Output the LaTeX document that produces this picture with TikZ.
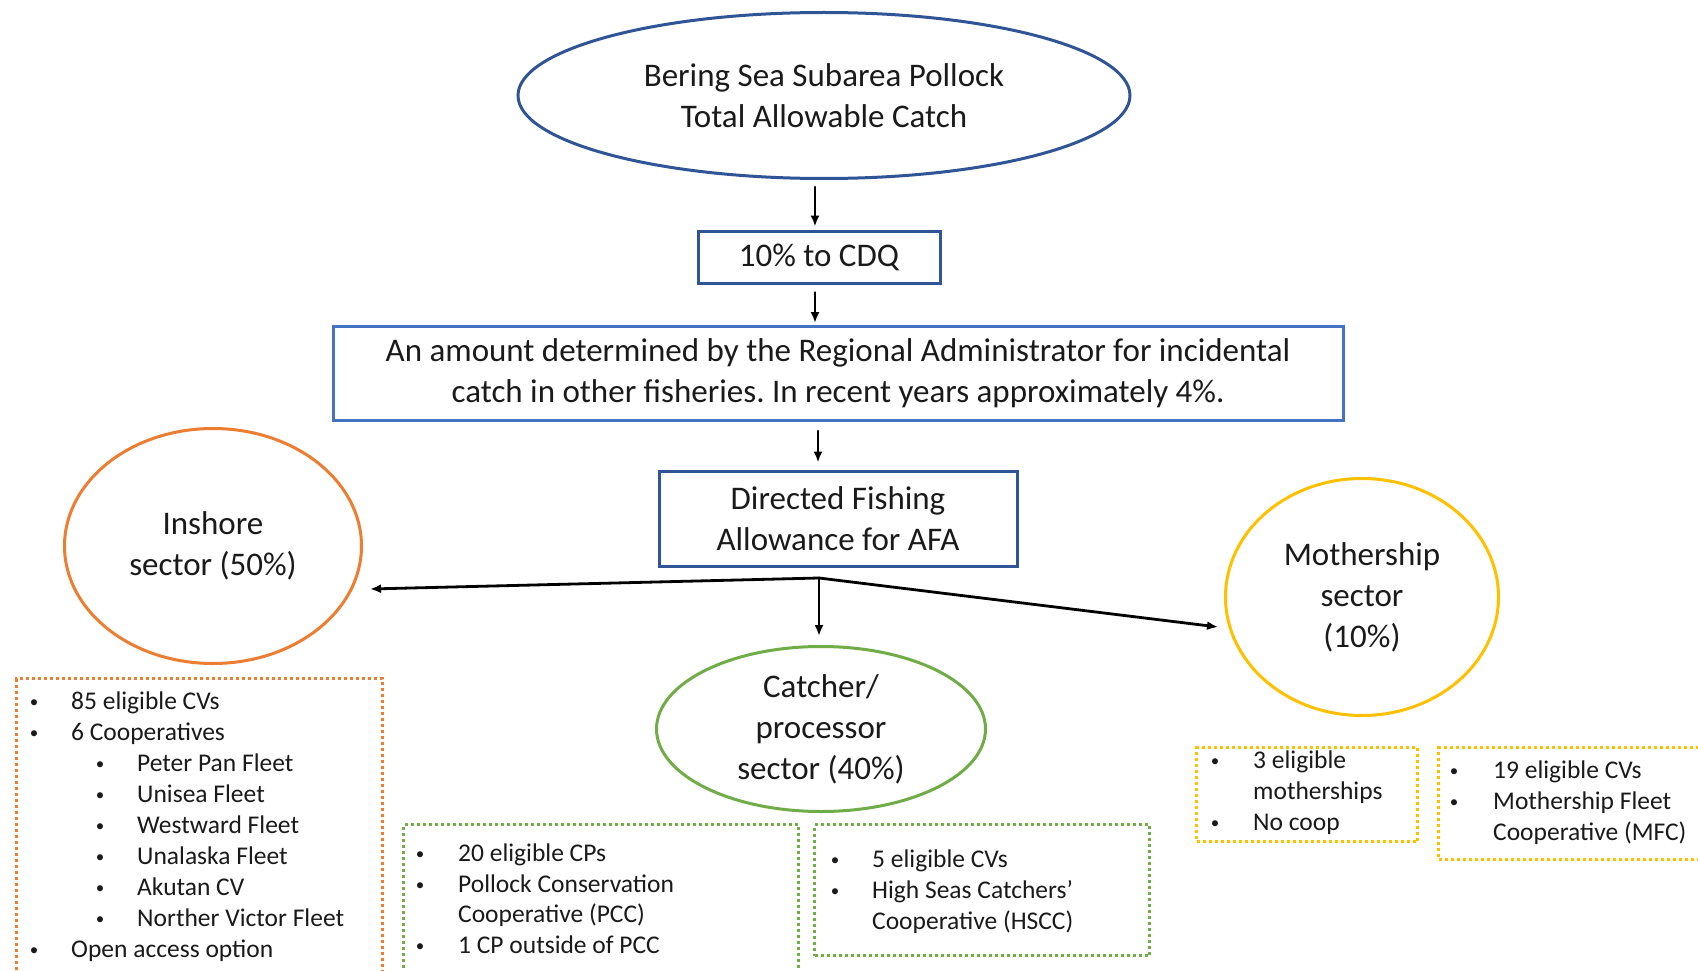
\documentclass[tikz,border=0pt]{standalone}
\usepackage{fontspec}
\setmainfont{Carlito}
\usetikzlibrary{shapes.geometric,arrows.meta}
\definecolor{dblue}{HTML}{2F5597}
\definecolor{lblue}{HTML}{4472C4}
\definecolor{orng}{HTML}{ED7D31}
\definecolor{grn}{HTML}{70AD47}
\definecolor{ylw}{HTML}{FFC000}
\definecolor{txt}{HTML}{1A1A1A}
\frenchspacing
\begin{document}
\begin{tikzpicture}[x=1pt,y=-1pt,
  big/.style={font=\fontsize{33}{41}\selectfont, text=txt, align=center, inner sep=0pt},
  oval/.style={big, ellipse, draw, line width=3pt},
  blbox/.style={big, rectangle, draw, line width=3pt},
  dotbox/.style={rectangle, draw, line width=3pt, dash pattern=on 3pt off 3pt, inner sep=0pt, anchor=north west},
  arr/.style={line width=2.8pt, line cap=round, -{Latex[length=11pt,width=9pt]}},
  bul/.style={font=\fontsize{17}{31}\selectfont, text=txt, anchor=base, inner sep=0pt},
  lst/.style={font=\fontsize{25.5}{31}\selectfont, text=txt, anchor=base west, inner sep=0pt}]
\fill[white] (0,0) rectangle (1698,971);
\useasboundingbox (0,0) rectangle (1698,971);
\clip (0,0) rectangle (1698,971);

% main nodes
\node[oval, draw=dblue, minimum width=612pt, minimum height=166pt] (tac) at (824,95.5) {Bering Sea Subarea Pollock\\Total Allowable Catch};
\node[blbox, draw=dblue, minimum width=242pt, minimum height=52pt] (cdq) at (819,257) {10\% to CDQ};
\node[blbox, draw=lblue, minimum width=1010pt, minimum height=94pt] (ra) at (838,373.5) {An amount determined by the Regional Administrator for incidental\\catch in other fisheries. In recent years approximately 4\%.};
\node[blbox, draw=dblue, minimum width=358pt, minimum height=95pt] (dfa) at (838,518.5) {Directed Fishing\\Allowance for AFA};

\node[oval, draw=orng, minimum width=297pt, minimum height=235pt] (ins) at (213,546) {Inshore\\sector (50\%)};
\node[oval, draw=grn, minimum width=329pt, minimum height=165pt] (cp) at (821,729) {Catcher/\\processor\\sector (40\%)};
\node[oval, draw=ylw, minimum width=273pt, minimum height=237pt] (ms) at (1362,597) {Mothership\\sector\\(10\%)};

% connectors
\draw[arr] ([xshift=-9pt,yshift=-7pt]tac.south) -- ([xshift=-4pt,yshift=3pt]cdq.north);
\draw[arr] ([xshift=-4pt,yshift=-8pt]cdq.south) -- ([xshift=-23pt,yshift=2pt]ra.north);
\draw[arr] ([xshift=-20pt,yshift=-9pt]ra.south) -- ([xshift=-20pt,yshift=7pt]dfa.north);

\coordinate (br) at (819,578);
\coordinate (insend) at (370,589);
\coordinate (cpend) at (819,636);
\coordinate (msend) at (1218,627);
\draw[arr] (br) -- (insend);
\draw[arr] (br) -- (cpend);
\draw[arr] (br) -- (msend);

% dotted boxes
\node[dotbox, draw=orng, minimum width=366pt, minimum height=330pt] (obox) at (15,677) {};
\node[dotbox, draw=grn, minimum width=395pt, minimum height=180pt] (g1box) at (402,823) {};
\node[dotbox, draw=grn, minimum width=335pt, minimum height=131pt] (g2box) at (813,823) {};
\node[dotbox, draw=ylw, minimum width=221pt, minimum height=94pt] (y1box) at (1195,746) {};
\node[dotbox, draw=ylw, minimum width=290pt, minimum height=112pt] (y2box) at (1437,746) {};

% bullets
\foreach \x/\y [count=\i] in {34/709,34/740,100/771,100/802,100/833,100/864,100/895,100/926,34/957,
  420/861,420/892,420/953, 835/867,835/898, 1215/768,1215/830, 1454/778,1454/809}
  \node[bul] (b\i) at (\x,\y-2) {\textbullet};

% list texts
\foreach \x/\y/\t [count=\i] in {
  71/709/{85 eligible CVs}, 71/740/{6 Cooperatives},
  137/771/{Peter Pan Fleet}, 137/802/{Unisea Fleet}, 137/833/{Westward Fleet},
  137/864/{Unalaska Fleet}, 137/895/{Akutan CV}, 137/926/{Norther Victor Fleet},
  71/957/{Open access option},
  458/861/{20 eligible CPs}, 458/892/{Pollock Conservation}, 458/922/{Cooperative (PCC)}, 458/953/{1 CP outside of PCC},
  872/867/{5 eligible CVs}, 872/898/{High Seas Catchers’}, 872/929/{Cooperative (HSCC)},
  1253/768/{3 eligible}, 1253/799/{motherships}, 1253/830/{No coop},
  1493/778/{19 eligible CVs}, 1493/809/{Mothership Fleet}, 1493/840/{Cooperative (MFC)}}
  \node[lst] (t\i) at (\x,\y) {\t};
\end{tikzpicture}
\end{document}
